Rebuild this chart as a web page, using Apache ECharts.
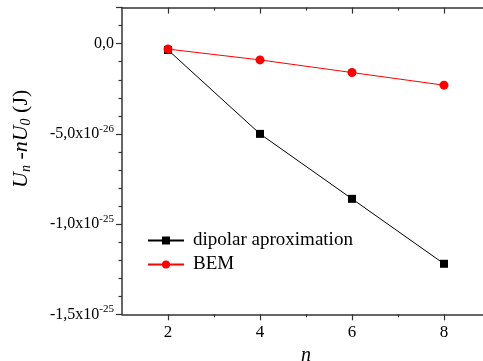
<!DOCTYPE html>
<html>
<head>
<meta charset="utf-8">
<script src="https://cdn.jsdelivr.net/npm/echarts@6.0.0/dist/echarts.min.js"></script>
<style>
  html, body { margin: 0; padding: 0; background: #fff; }
  #main { width: 483px; height: 361px; }
</style>
</head>
<body>
<div id="main"></div>
<script>
// values in units of 1e-26 J
const nValues = [2, 4, 6, 8];
const dipolar = [-0.35, -5.0, -8.6, -12.2];
const bem = [-0.3, -0.9, -1.6, -2.3];
const xMajor = [2, 4, 6, 8];
const xMinor = [3, 5, 7];
const yLabels = { "0": "0,0", "-5": "-5,0x10{sup|-26}", "-10": "-1,0x10{sup|-25}", "-15": "-1,5x10{sup|-25}" };

const font = "'Liberation Serif', 'DejaVu Serif', serif";
const axisColor = "#333";

const chart = echarts.init(document.getElementById("main"));

const xBase = {
  type: "value",
  min: 1,
  max: 9,
  splitLine: { show: false },
  axisLine: { show: true, onZero: false, lineStyle: { color: axisColor, width: 1.5 } },
};

chart.setOption({
  animation: false,
  backgroundColor: "#fff",
  textStyle: { fontFamily: font },
  grid: { left: 122, top: 7.6, right: -7, bottom: 46.7, containLabel: false, outerBoundsMode: "none" },
  legend: {
    orient: "vertical",
    left: 142,
    top: 226,
    itemWidth: 36,
    itemHeight: 10,
    itemGap: 5,
    textStyle: { fontFamily: font, fontSize: 19, color: "#000", padding: [0, 0, 0, 4] },
    data: ["dipolar aproximation", "BEM"],
  },
  graphic: [
    {
      type: "text",
      x: 9,
      y: 188,
      rotation: Math.PI / 2,
      style: {
        text: "{i|U}{sub|n}{r| -}{i|nU}{sub|0}{r| (J)}",
        fill: "#000",
        rich: {
          i: { fontFamily: font, fontStyle: "italic", fontSize: 22 },
          r: { fontFamily: font, fontSize: 22 },
          sub: { fontFamily: font, fontStyle: "italic", fontSize: 14, padding: [10, 0, 0, 0] },
        },
      },
    },
  ],
  xAxis: [
    {
      ...xBase,
      position: "bottom",
      name: "n",
      nameLocation: "middle",
      nameGap: 28,
      nameTextStyle: { fontFamily: font, fontStyle: "italic", fontSize: 20, color: "#000" },
      axisTick: { show: true, customValues: xMajor, length: 6, lineStyle: { color: axisColor, width: 1.2 } },
      axisLabel: { customValues: xMajor, fontFamily: font, fontSize: 17, color: "#000", margin: 10 },
    },
    {
      ...xBase,
      position: "bottom",
      axisLine: { show: false, onZero: false },
      axisTick: { show: true, customValues: xMinor, length: 3, lineStyle: { color: axisColor, width: 1.2 } },
      axisLabel: { show: false },
    },
    {
      ...xBase,
      position: "top",
      axisTick: { show: true, inside: true, customValues: xMajor, length: 6, lineStyle: { color: axisColor, width: 1.2 } },
      axisLabel: { show: false },
    },
    {
      ...xBase,
      position: "top",
      axisLine: { show: false, onZero: false },
      axisTick: { show: true, inside: true, customValues: xMinor, length: 3, lineStyle: { color: axisColor, width: 1.2 } },
      axisLabel: { show: false },
    },
  ],
  yAxis: {
    type: "value",
    min: -15,
    max: 2,
    interval: 5,
    splitLine: { show: false },
    axisLine: { show: true, onZero: false, lineStyle: { color: axisColor, width: 1.5 } },
    axisTick: { show: true, length: 6, lineStyle: { color: axisColor, width: 1.2 } },
    minorTick: { show: true, splitNumber: 5, length: 3.5, lineStyle: { color: axisColor, width: 1.2 } },
    axisLabel: {
      margin: 8,
      fontFamily: font,
      fontSize: 16,
      color: "#000",
      formatter: (v) => yLabels[String(Math.round(v))] !== undefined && Math.abs(v - Math.round(v)) < 1e-9 ? yLabels[String(Math.round(v))] : "",
      rich: { sup: { fontFamily: font, fontSize: 11, color: "#000", padding: [0, 0, 10, 0] } },
    },
  },
  series: [
    {
      name: "dipolar aproximation",
      type: "line",
      data: nValues.map((n, i) => [n, dipolar[i]]),
      symbol: "rect",
      symbolSize: 8,
      itemStyle: { color: "#000" },
      lineStyle: { color: "#000", width: 1 },
    },
    {
      name: "BEM",
      type: "line",
      data: nValues.map((n, i) => [n, bem[i]]),
      symbol: "circle",
      symbolSize: 9,
      itemStyle: { color: "#ff0000" },
      lineStyle: { color: "#ff0000", width: 1 },
    },
  ],
});
</script>
</body>
</html>
